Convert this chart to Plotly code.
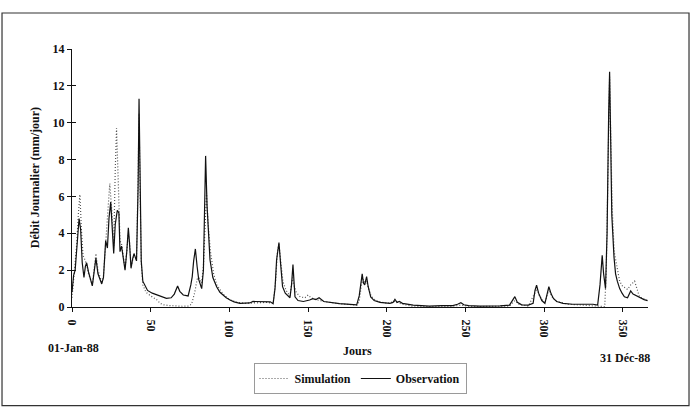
import plotly.graph_objects as go

# Observation (day, value)
obs_days = [0, 1, 2, 3, 4.5, 5.5, 6.5, 7.6, 8.5, 9.3, 10.5, 12.9, 14, 15.2, 16.5, 18.9, 20, 21.4, 22.5, 23.5,
            24.6, 25.5, 26.5, 27.5, 28.8, 29.8, 30.5, 31.5, 32.5, 33.7, 34.8, 35.8, 36.6, 37.5, 38.5, 39.4,
            41, 42, 42.6, 43.3, 44, 45, 46.5, 48, 51, 54, 57, 60, 63, 65, 67.1, 68.5, 70.7, 73.8, 75.5, 76.4,
            77.3, 78.4, 79.5, 80.5, 82.4, 83.5, 84.9, 85.8, 87.7, 89.5, 91.9, 94, 96, 98, 100.4, 103, 106.7,
            110, 113, 115, 120, 123.7, 126, 127.8, 129, 130, 131.5, 132.5, 133.8, 135.5, 138.5, 139.5, 140.4,
            141.2, 141.7, 143.6, 147, 151, 153, 155, 157, 160, 165, 170, 174.5, 180.9, 182.5, 183.5, 184.4,
            185.2, 186, 187.2, 188.2, 189.8, 192, 195.7, 202, 204, 205.2, 206.5, 208, 210, 213, 216.8, 222,
            227, 235, 242, 245, 247.1, 249, 252, 259, 265, 272, 278, 280, 281.4, 283, 285.7, 290, 293, 294.2,
            295.2, 296.5, 298.5, 300.5, 302, 303, 304.5, 306, 308, 312, 318, 323, 328, 331, 334, 335.5, 336.9,
            337.8, 339, 340, 341, 341.6, 342.3, 343, 344.4, 345.4, 346.5, 348, 349.5, 351, 353, 354, 355,
            356.5, 358.7, 361, 363.5, 365.7]
obs_vals = [0.8, 1.7, 2.0, 3.0, 4.8, 4.2, 2.4, 1.6, 2.2, 2.4, 1.9, 1.15, 1.8, 2.65, 1.8, 1.25, 1.6, 3.6, 3.2, 4.8,
            5.7, 4.5, 2.9, 4.5, 5.25, 5.1, 3.0, 3.3, 2.8, 2.0, 3.0, 4.3, 3.4, 2.1, 2.6, 2.9,
            2.5, 6.5, 11.3, 6.0, 2.5, 1.4, 1.1, 0.9, 0.75, 0.65, 0.55, 0.47, 0.5, 0.7, 1.14, 0.85, 0.65, 0.6, 1.2, 1.65,
            2.5, 3.15, 2.2, 1.5, 1.0, 2.0, 8.2, 5.5, 2.55, 1.6, 1.1, 0.8, 0.65, 0.5, 0.38, 0.28, 0.2,
            0.2, 0.22, 0.3, 0.3, 0.3, 0.28, 0.18, 1.0, 2.55, 3.5, 2.4, 1.1, 0.75, 0.5, 1.2, 2.3,
            1.2, 0.55, 0.35, 0.3, 0.38, 0.45, 0.4, 0.5, 0.3, 0.22, 0.18, 0.16, 0.12, 0.6, 1.4, 1.8,
            1.3, 1.2, 1.65, 1.1, 0.55, 0.35, 0.25, 0.2, 0.25, 0.42, 0.25, 0.3, 0.2, 0.15, 0.1, 0.08,
            0.05, 0.07, 0.08, 0.15, 0.23, 0.12, 0.07, 0.05, 0.05, 0.06, 0.1, 0.35, 0.56, 0.25, 0.12, 0.1, 0.2, 0.9,
            1.18, 0.75, 0.35, 0.2, 0.7, 1.1, 0.7, 0.45, 0.3, 0.2, 0.15, 0.15, 0.18, 0.15, 0.1, 1.2, 2.8,
            1.8, 1.0, 4.0, 10.5, 12.77, 9.0, 5.0, 2.7, 1.8, 1.4, 1.0, 0.75, 0.55, 0.5, 0.65, 0.87,
            0.7, 0.6, 0.5, 0.4, 0.35]

# Simulation (day, value)
sim_days = [0, 1, 2, 3, 4, 5, 6, 7, 8, 9.3, 10.5, 13, 14, 15.2, 16.5, 19, 20, 21.4, 23, 24, 25.5, 26.5, 27.5,
            28.3, 29.5, 30.5, 31.5, 32.5, 33.7, 35, 35.8, 36.6, 37.5, 39, 41, 42, 42.6, 43.3, 44, 45, 47, 50,
            53.8, 56, 58, 62, 66, 70, 74, 76, 78, 79.5, 80.5, 82.4, 83.5, 85.5, 86.5, 88, 90, 92, 96, 100,
            105, 110, 115, 120, 124, 127.8, 129.5, 130.5, 131.5, 132.5, 134, 136, 138.5, 140.2, 141, 142.5,
            145, 148, 150, 152, 155, 160, 170, 181, 182.5, 184, 185, 186.2, 187.2, 188.5, 190, 193, 200,
            205.2, 210, 216, 225, 240, 247, 255, 270, 278, 281.4, 284, 290, 294.5, 295.5, 297, 300.5, 303,
            305, 308, 315, 325, 334, 338.5, 339.5, 340.5, 341.6, 342.3, 343.2, 344.5, 345.5, 346.5, 348,
            350, 351.5, 353, 355, 357.5, 359, 360.6, 363, 365.7]
sim_vals = [0.5, 1.6, 2.2, 3.4, 5.0, 6.1, 4.2, 2.8, 2.6, 2.3, 1.8, 1.2, 2.0, 2.9, 2.0, 1.3, 1.7, 3.4, 5.5, 6.7, 5.0, 3.3, 7.5,
            9.7, 6.5, 3.6, 3.4, 2.9, 2.1, 3.2, 4.0, 3.5, 2.2, 2.7, 2.6, 7.0, 10.5, 6.0, 2.4, 1.2, 0.8, 0.6,
            0.4, 0.2, 0.12, 0.08, 0.05, 0.04, 0.05, 0.15, 0.8, 1.5, 1.6, 1.3, 2.2, 6.2, 4.5, 3.0, 1.8, 1.2, 0.7, 0.4,
            0.25, 0.2, 0.22, 0.25, 0.25, 0.2, 1.5, 3.0, 3.4, 2.6, 1.4, 0.9, 0.6, 1.6, 1.2, 0.8,
            0.55, 0.5, 0.65, 0.5, 0.4, 0.3, 0.18, 0.1, 0.3, 1.3, 1.5, 1.3, 1.4, 1.0, 0.6, 0.35, 0.2,
            0.3, 0.15, 0.05, 0.02, 0.02, 0.1, 0.02, 0.02, 0.05, 0.35, 0.15, 0.05, 0.8, 1.0, 0.6, 0.2, 0.95,
            0.55, 0.3, 0.15, 0.1, 0.05, 0.02, 2.0, 7.0, 12.5, 9.5, 5.5, 3.0, 2.5, 2.0, 1.4,
            1.1, 1.05, 0.95, 1.2, 1.4, 1.0, 0.55, 0.45, 0.35]

x_ticks = [0, 50, 100, 150, 200, 250, 300, 350]
y_ticks = [0, 2, 4, 6, 8, 10, 12, 14]

FONT = "Liberation Serif"
TXT = dict(family=FONT, size=12, color="#111111", weight="bold")

fig = go.Figure()
fig.add_trace(go.Scatter(x=sim_days, y=sim_vals, mode="lines", name="Simulation",
                         line=dict(color="#555555", width=1.2, dash="1px,2px")))
fig.add_trace(go.Scatter(x=obs_days, y=obs_vals, mode="lines", name="Observation",
                         line=dict(color="#111111", width=1.2)))
# overlay axis for the inner half of the crossing y ticks
fig.add_trace(go.Scatter(x=[0], y=[0], yaxis="y2", mode="lines", showlegend=False,
                         hoverinfo="skip", line=dict(color="rgba(0,0,0,0)")))

fig.update_layout(
    width=696, height=410,
    margin=dict(l=72, r=48, t=49, b=103),
    paper_bgcolor="white", plot_bgcolor="white",
    font=TXT,
    xaxis=dict(range=[0, 366], tickvals=x_ticks, ticktext=[str(v) for v in x_ticks],
               tickangle=90, showgrid=False, zeroline=False, showline=True,
               linecolor="#111111", linewidth=1, ticks="outside", ticklen=4,
               tickcolor="#111111", tickfont=TXT, ticklabelstandoff=5),
    yaxis=dict(range=[0, 14], tickvals=y_ticks, showgrid=False, zeroline=False,
               showline=True, linecolor="#111111", linewidth=1, ticks="outside",
               ticklen=4, tickcolor="#111111", tickfont=TXT),
    yaxis2=dict(range=[0, 14], tickvals=y_ticks, overlaying="y", side="left", anchor="x",
                showgrid=False, zeroline=False, showline=False, ticks="inside",
                ticklen=4, tickcolor="#111111", showticklabels=False),
    legend=dict(orientation="h", x=0.5, xanchor="center", y=-0.217, yanchor="top",
                bgcolor="white", bordercolor="#9a9a9a", borderwidth=1,
                font=TXT, itemwidth=30),
    showlegend=True,
)

fig.add_annotation(text="Débit Journalier (mm/jour)", textangle=-90, xref="paper", yref="paper",
                   x=-0.064, y=0.5, xanchor="center", yanchor="middle", showarrow=False, font=TXT)
fig.add_annotation(text="Jours", xref="paper", yref="paper", x=0.495, y=-0.17,
                   xanchor="center", yanchor="middle", showarrow=False, font=TXT)
fig.add_annotation(text="01-Jan-88", xref="paper", yref="paper", x=0.003, y=-0.159,
                   xanchor="center", yanchor="middle", showarrow=False, font=TXT)
fig.add_annotation(text="31 Déc-88", xref="paper", yref="paper", x=0.96, y=-0.198,
                   xanchor="center", yanchor="middle", showarrow=False, font=TXT)

# outer frame
fig.add_shape(type="rect", xref="paper", yref="paper", x0=-0.1215, x1=1.0712, y0=-0.382, y1=1.1395,
              line=dict(color="#333333", width=1.2), layer="below")

fig.write_html("out.html")
